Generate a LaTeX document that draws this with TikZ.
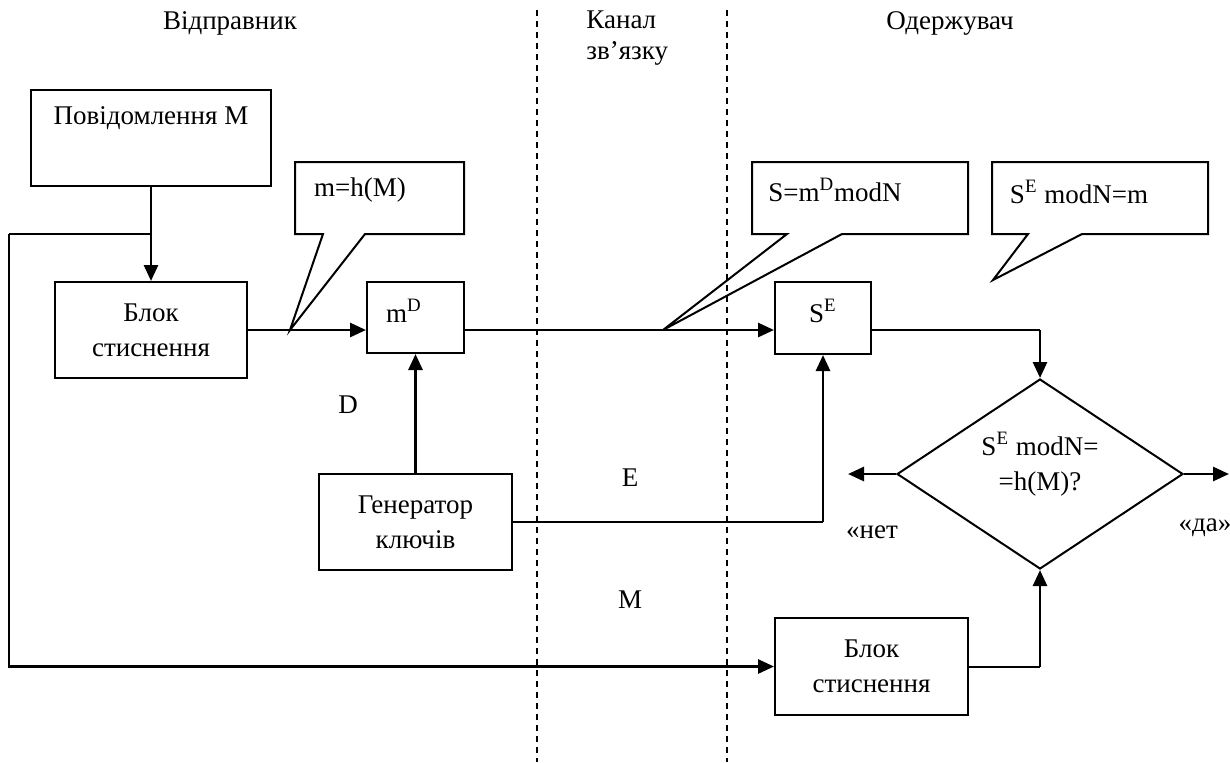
\documentclass[tikz,border=0pt]{standalone}
\usepackage{fontspec}
\setmainfont{Liberation Serif}
\usetikzlibrary{arrows.meta,shapes.geometric}
\begin{document}
\begin{tikzpicture}[x=0.5pt,y=-0.5pt,
  every node/.style={font=\fontsize{13.5}{17.5}\selectfont},
  box/.style={draw,line width=1pt,inner sep=0pt,align=center},
  lbl/.style={inner sep=0pt,align=center},
  arr/.style={line width=1.4pt,-{Triangle[length=8pt,width=7pt]}},
  thinline/.style={line width=1pt},
  chan/.style={line width=0.6pt,dash pattern=on 3pt off 2.5pt},
  callout/.style={draw,line width=1pt,line join=miter}]
\useasboundingbox (0,0) rectangle (1230,762);

% channel boundaries
\draw[chan] (537,10) -- (537,762);
\draw[chan] (727,10) -- (727,762);

% headers
\node[lbl] (hsend) at (230,23) {Відправник};
\node[lbl,align=left,anchor=west] (hchan) at (586,38) {Канал\\[-2pt]зв’язку};
\node[lbl] (hrecv) at (950,23) {Одержувач};

% boxes
\node[box,minimum width=120pt,minimum height=48pt] (povid) at (151,138) {};
\node[lbl] (povidt) at (151,118) {Повідомлення М};
\node[box,minimum width=96pt,minimum height=48pt] (blok1) at (151,330) {Блок\\стиснення};
\node[box,minimum width=48.5pt,minimum height=35.5pt] (md) at (415.5,317.5) {};
\node[lbl] (mdt) at (404,311) {m\textsuperscript{D}};
\node[box,minimum width=96.5pt,minimum height=48pt] (gen) at (415.5,522) {Генератор\\ключів};
\node[box,minimum width=48pt,minimum height=36pt] (SE) at (823,318) {};
\node[lbl] (SEt) at (823,311) {S\textsuperscript{E}};
\node[box,minimum width=96.5pt,minimum height=48.5pt] (blok2) at (871.5,666.5) {Блок\\стиснення};
\node[draw,diamond,line width=1pt,inner sep=0pt,minimum width=143pt,minimum height=95pt] (dia) at (1040,474) {};
\node[lbl] (diat) at (1040,464) {S\textsuperscript{E} modN=\\=h(M)?};

% callouts
\coordinate (tip1) at (290,330);
\coordinate (tip2) at (663,330);
\coordinate (tip3) at (993,280);
\draw[callout] (295,234) -- (323,234) -- (tip1) -- (365,234) -- (464,234) -- (464,162) -- (295,162) -- cycle;
\node[lbl] (c1t) at (360,190) {m=h(M)};
\draw[callout] (752,234) -- (787,234) -- (tip2) -- (842,234) -- (968,234) -- (968,162) -- (752,162) -- cycle;
\node[lbl] (c2t) at (835,190) {S=m\textsuperscript{D}modN};
\draw[callout] (992,234) -- (1028,234) -- (tip3) -- (1082,234) -- (1208,234) -- (1208,162) -- (992,162) -- cycle;
\node[lbl] (c3t) at (1079,192) {S\textsuperscript{E} modN=m};

% connectors
\draw[arr] (povid.south) -- (blok1.north);
\coordinate (j1) at (151,234);
\coordinate (c1) at (9,234);
\draw[thinline] (j1) -- (c1);
\draw[arr] (c1) |- (blok2.west);
\draw[arr] (blok1.east) -- (blok1.east -| md.west);
\draw[arr] (blok1.east -| md.east) -- (blok1.east -| SE.west);
\draw[arr] (gen.north) -- (md.south);
\coordinate (k2) at (gen.east -| SE.south);
\draw[thinline] (gen.east) -- (k2);
\draw[arr] (k2) -- (SE.south);
\coordinate (s1) at (blok1.east -| SE.east);
\coordinate (k1) at (s1 -| dia.north);
\draw[thinline] (s1) -- (k1);
\draw[arr] (k1) -- (dia.north);
\coordinate (k3) at (blok2.east -| dia.south);
\draw[thinline] (blok2.east) -- (k3);
\draw[arr] (k3) -- (dia.south);
\coordinate (no) at (848,474);
\coordinate (yes) at (1229,474);
\draw[arr] (dia.west) -- (no);
\draw[arr] (dia.east) -- (yes);

% labels
\node[lbl] (lD) at (348,405) {D};
\node[lbl] (lE) at (630,478) {E};
\node[lbl] (lM) at (630,600) {M};
\node[lbl] (lno) at (872,532) {«нет};
\node[lbl] (lyes) at (1205,528) {«да»};
\end{tikzpicture}
\end{document}
